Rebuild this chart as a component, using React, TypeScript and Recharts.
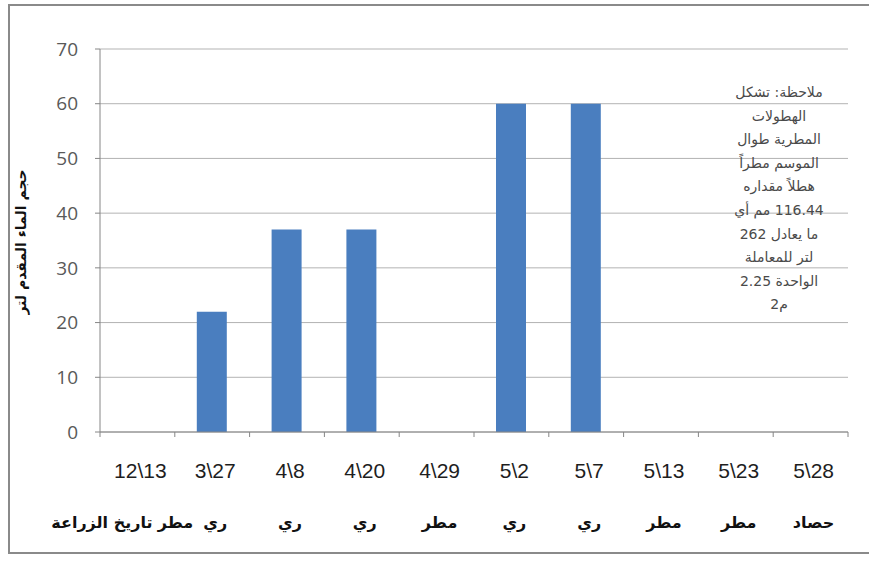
import React from "react";
import { BarChart, Bar, XAxis, YAxis, CartesianGrid } from "recharts";

const dates = ["12\\13", "3\\27", "4\\8", "4\\20", "4\\29", "5\\2", "5\\7", "5\\13", "5\\23", "5\\28"];
const activities = ["مطر", "ري", "ري", "ري", "مطر", "ري", "ري", "مطر", "مطر", "حصاد"];
const waterLitres = [0, 22, 37, 37, 0, 60, 60, 0, 0, 0];
const yTicks = [0, 10, 20, 30, 40, 50, 60, 70];
const rowHeader = "تاريخ الزراعة";
const yTitle = "حجم الماء المقدم لتر";
const noteLines = [
  "ملاحظة: تشكل",
  "الهطولات",
  "المطرية طوال",
  "الموسم مطراً",
  "هطلاً مقداره",
  "116.44 مم أي",
  "ما يعادل 262",
  "لتر للمعاملة",
  "الواحدة 2.25",
  "م2",
];

const data = dates.map((date, i) => ({ date, activity: activities[i], value: waterLitres[i] }));

const W = 869;
const H = 561;
const margin = { top: 49, right: 21, bottom: 29, left: 0 };
const yAxisWidth = 100;
const halfBand = (W - margin.right - yAxisWidth) / dates.length / 2;

const arabicFont = "'DejaVu Sans', sans-serif";

function DateTick(props: any) {
  const { x, y, payload, index } = props;
  const half = payload && payload.offset > 0 ? payload.offset : halfBand;
  const isLast = index === dates.length - 1;
  return (
    <g>
      <line x1={x - half} x2={x - half} y1={y} y2={y + 5} stroke="#868686" />
      {isLast && <line x1={x + half} x2={x + half} y1={y} y2={y + 5} stroke="#868686" />}
      <text
        x={x + 3}
        y={y + 46}
        textAnchor="middle"
        fontFamily="'Liberation Sans', Arial, sans-serif"
        fontSize={21}
        fill="#1e1e1e"
      >
        {payload.value}
      </text>
      {index === 0 ? (
        <>
          <text x={x + 38} y={y + 96} textAnchor="middle" fontFamily={arabicFont} fontWeight="bold" fontSize={16} fill="#111">
            {activities[index]}
          </text>
          <text x={x + 15} y={y + 96} textAnchor="end" fontFamily={arabicFont} fontWeight="bold" fontSize={16} fill="#111">
            {rowHeader}
          </text>
        </>
      ) : (
        <text x={x + 3} y={y + 96} textAnchor="middle" fontFamily={arabicFont} fontWeight="bold" fontSize={16} fill="#111">
          {activities[index]}
        </text>
      )}
    </g>
  );
}

export default function App() {
  return (
    <div style={{ position: "absolute", left: 0, top: 0, width: W, height: H, background: "#fff", overflow: "hidden" }}>
      <div
        style={{
          position: "absolute",
          left: 8,
          top: 4,
          width: W,
          height: 550,
          border: "2px solid #8a8a8a",
          boxSizing: "border-box",
        }}
      />
      <div style={{ position: "absolute", left: 0, top: 0 }}>
        <BarChart width={W} height={H} data={data} margin={margin}>
          <CartesianGrid vertical={false} stroke="#b3b3b3" />
          <XAxis
            dataKey="date"
            interval={0}
            height={100}
            tickSize={0}
            tickMargin={0}
            tickLine={false}
            axisLine={{ stroke: "#868686" }}
            tick={<DateTick />}
          />
          <YAxis
            width={yAxisWidth}
            domain={[0, 70]}
            ticks={yTicks}
            interval={0}
            tickSize={5}
            tickMargin={17}
            axisLine={{ stroke: "#868686" }}
            tickLine={{ stroke: "#868686" }}
            tick={{ fill: "#595959", fontSize: 19, fontFamily: "'Open Sans', sans-serif" }}
          />
          <Bar dataKey="value" fill="#4a7ebf" barSize={30} isAnimationActive={false} />
        </BarChart>
      </div>
      <svg width={W} height={H} style={{ position: "absolute", left: 0, top: 0, pointerEvents: "none" }}>
        <text
          transform="translate(26 242) rotate(-90)"
          textAnchor="middle"
          fontFamily={arabicFont}
          fontWeight="bold"
          fontSize={14}
          fill="#111"
        >
          {yTitle}
        </text>
        {noteLines.map((line, i) => (
          <text
            key={i}
            x={779}
            y={97 + i * 23.6}
            textAnchor="middle"
            direction="rtl"
            fontFamily={arabicFont}
            fontSize={14}
            fill="#4a4a4a"
          >
            {line}
          </text>
        ))}
      </svg>
    </div>
  );
}
